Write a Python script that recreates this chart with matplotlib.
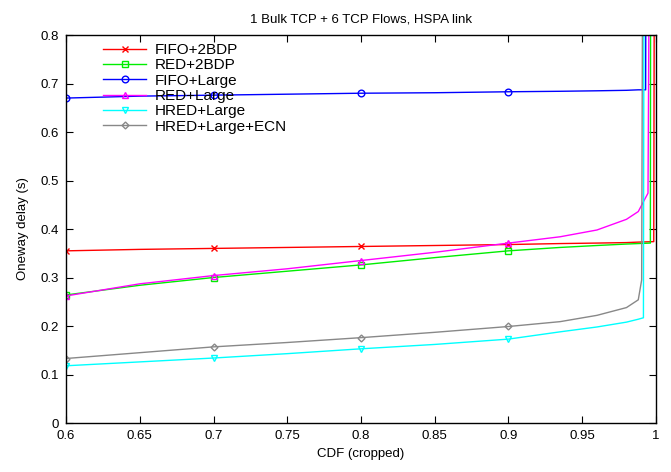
import matplotlib
matplotlib.use("Agg")
import matplotlib.pyplot as plt
import numpy as np

plt.rcParams['font.family'] = ['Liberation Sans', 'DejaVu Sans']

# CDF grid shared by all curves (before the vertical tail)
cdf_grid = [0.6, 0.65, 0.7, 0.75, 0.8, 0.85, 0.9, 0.935, 0.96, 0.98, 0.988]

fifo_2bdp = [0.355, 0.358, 0.360, 0.362, 0.364, 0.366, 0.368, 0.370, 0.371, 0.372, 0.373]
red_2bdp = [0.264, 0.284, 0.300, 0.313, 0.326, 0.341, 0.355, 0.362, 0.366, 0.369, 0.370]
fifo_large = [0.670, 0.674, 0.676, 0.678, 0.680, 0.681, 0.683, 0.684, 0.685, 0.686, 0.687]
red_large = [0.262, 0.287, 0.304, 0.318, 0.335, 0.352, 0.371, 0.384, 0.398, 0.420, 0.436]
hred_large = [0.118, 0.126, 0.134, 0.143, 0.153, 0.162, 0.173, 0.188, 0.198, 0.208, 0.214]
hred_ecn = [0.133, 0.145, 0.157, 0.166, 0.176, 0.187, 0.199, 0.209, 0.222, 0.238, 0.254]

# tail of each curve: (cdf, delay) pairs where the delay shoots up
tails = {
    "FIFO+2BDP": ([0.9985, 0.9989], [0.374, 1.0]),
    "RED+2BDP": ([0.9962, 0.9964], [0.371, 1.0]),
    "FIFO+Large": ([0.9930, 0.9932], [0.687, 1.0]),
    "RED+Large": ([0.9946, 0.9955], [0.474, 1.0]),
    "HRED+Large": ([0.9915, 0.9919], [0.217, 1.0]),
    "HRED+Large+ECN": ([0.9903, 0.9910], [0.295, 1.0]),
}

series = [
    ("FIFO+2BDP", fifo_2bdp, "#ff0000", "x"),
    ("RED+2BDP", red_2bdp, "#00ee00", "s"),
    ("FIFO+Large", fifo_large, "#0000ff", "o"),
    ("RED+Large", red_large, "#ff00ff", "^"),
    ("HRED+Large", hred_large, "#00ffff", "v"),
    ("HRED+Large+ECN", hred_ecn, "#888888", "D"),
]
marker_idx = [0, 2, 4, 6]

fig = plt.figure(figsize=(6.71, 4.72), dpi=100)
ax = fig.add_axes([0.0984, 0.1038, 0.8792, 0.822])

for name, vals, color, mk in series:
    tx, ty = tails[name]
    x = list(cdf_grid) + tx
    y = list(vals) + ty
    ax.plot(x, y, color=color, lw=1.0, marker=mk, markevery=marker_idx,
            markersize=4.8 if mk != "D" else 3.5, markerfacecolor="none",
            markeredgecolor=color, markeredgewidth=1.0, label=name)

ax.set_xlim(0.6, 1.0)
ax.set_ylim(0, 0.8)
ax.set_xticks(np.arange(0.6, 1.0001, 0.05))
ax.set_xticklabels(["0.6", "0.65", "0.7", "0.75", "0.8", "0.85", "0.9", "0.95", "1"])
ax.set_yticks(np.arange(0, 0.8001, 0.1))
ax.set_yticklabels(["0", "0.1", "0.2", "0.3", "0.4", "0.5", "0.6", "0.7", "0.8"])
ax.tick_params(direction="in", top=True, right=True, length=5, width=0.8,
               labelsize=9.5, pad=5)
for s in ax.spines.values():
    s.set_linewidth(1.0)

ax.set_xlabel("CDF (cropped)", fontsize=9.5, labelpad=4)
ax.set_ylabel("Oneway delay (s)", fontsize=9.5, labelpad=8)
ax.set_title("1 Bulk TCP + 6 TCP Flows, HSPA link", fontsize=9.5, pad=9)

ax.legend(loc="upper left", bbox_to_anchor=(0.058, 0.987), frameon=False,
          fontsize=11, handlelength=2.8, handletextpad=0.6, labelspacing=0.085,
          borderpad=0.2, borderaxespad=0)

plt.savefig("out.png", dpi=100)
plt.close()
